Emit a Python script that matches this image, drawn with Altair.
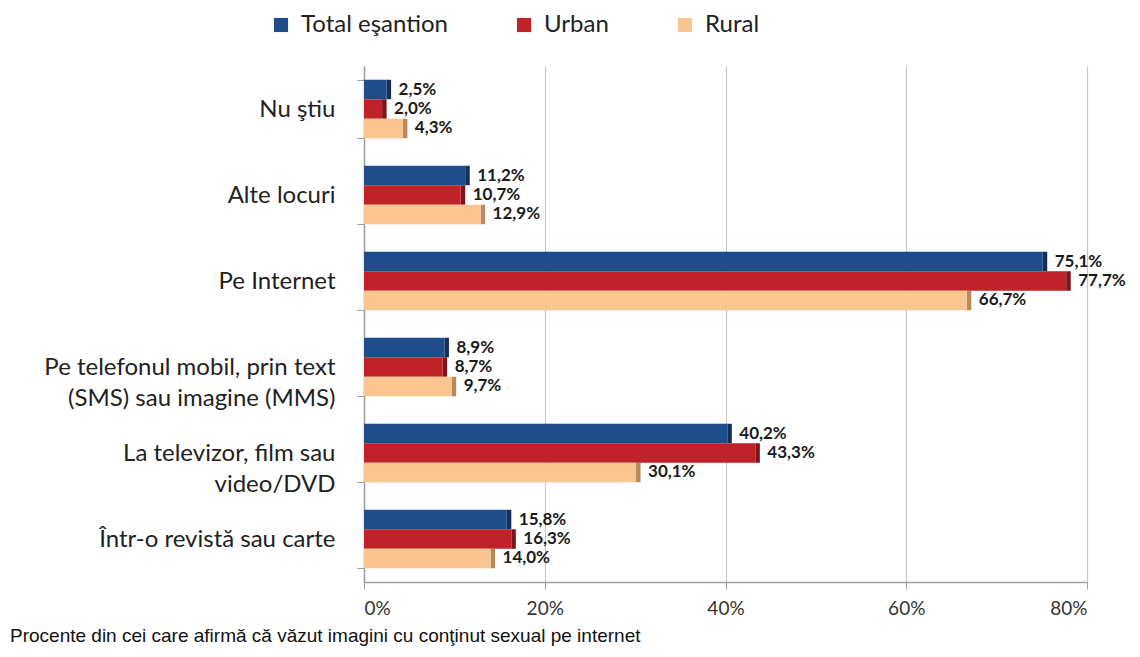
import altair as alt
import pandas as pd

categories = [
    "Nu ştiu",
    "Alte locuri",
    "Pe Internet",
    "Pe telefonul mobil, prin text|(SMS) sau imagine (MMS)",
    "La televizor, film sau|video/DVD",
    "Într-o revistă sau carte",
]
series = ["Total eşantion", "Urban", "Rural"]
total = [2.5, 11.2, 75.1, 8.9, 40.2, 15.8]
urban = [2.0, 10.7, 77.7, 8.7, 43.3, 16.3]
rural = [4.3, 12.9, 66.7, 9.7, 30.1, 14.0]
colors = ["#1f4c8a", "#c0222a", "#fbc592"]
side_colors = ["#142f58", "#7e141a", "#b98a5c"]
x_ticks = [0, 20, 40, 60, 80]
footnote = "Procente din cei care afirmă că văzut imagini cu conţinut sexual pe internet"

rows = []
for s, vals in zip(series, [total, urban, rural]):
    for c, v in zip(categories, vals):
        rows.append({"cat": c, "series": s, "value": v,
                     "label": f"{v:.1f}".replace(".", ",") + "%"})
df = pd.DataFrame(rows)

FONT = "Lato"

base = alt.Chart(df).encode(
    y=alt.Y(
        "cat:N",
        sort=categories,
        title=None,
        scale=alt.Scale(paddingInner=0.32, paddingOuter=0.16),
        axis=alt.Axis(
            labelExpr="split(datum.label, '|')",
            labelFont=FONT,
            labelFontSize=24,
            labelColor="#222222",
            labelPadding=22,
            labelLineHeight=31,
            labelLimit=500,
            tickBand="extent",
            tickSize=7,
            tickColor="#a0a0a0",
            domainColor="#a0a0a0",
            domainWidth=1.5,
            grid=False,
        ),
    ),
    yOffset=alt.YOffset("series:N", sort=series),
)

x_enc = alt.X(
    "value:Q",
    title=None,
    scale=alt.Scale(domain=[0, 80], nice=False),
    axis=alt.Axis(
        values=x_ticks,
        labelExpr="datum.value + '%'",
        labelFont=FONT,
        labelFontSize=19,
        labelColor="#333333",
        labelPadding=10,
        tickSize=7,
        tickColor="#a0a0a0",
        domainColor="#a0a0a0",
        domainWidth=1.5,
        grid=True,
        gridColor="#c8c8c8",
        gridWidth=1.2,
    ),
)

sides = base.mark_bar().transform_calculate(
    side_end="datum.value + 0.5"
).encode(
    x=x_enc,
    x2="side_end:Q",
    color=alt.Color("series:N", sort=series,
                    scale=alt.Scale(domain=series, range=side_colors),
                    legend=None),
)

bars = base.mark_bar().encode(
    x=x_enc,
    color=alt.Color(
        "series:N",
        sort=series,
        scale=alt.Scale(domain=series, range=colors),
        legend=alt.Legend(
            title=None,
            orient="none",
            direction="horizontal",
            legendX=-95,
            legendY=-53,
            symbolType="square",
            symbolSize=200,
            symbolStrokeWidth=0,
            labelFont=FONT,
            labelFontSize=24,
            labelColor="#222222",
            labelLimit=400,
            columnPadding=64,
            labelOffset=8,
        ),
    ),
)

labels = base.mark_text(
    align="left", baseline="middle", dx=12, font=FONT, fontSize=17,
    fontWeight="bold", color="#1a1a1a"
).encode(x=alt.X("value:Q"), text="label:N")

chart = (
    alt.layer(sides, bars, labels)
    .resolve_scale(color="independent")
    .properties(
        width=723,
        height=516,
        padding={"left": 2, "top": 5, "right": 5, "bottom": 0},
        title=alt.TitleParams(
            footnote,
            orient="bottom",
            anchor="start",
            frame="group",
            dx=-354,
            offset=9,
            font="Liberation Sans",
            fontSize=19,
            fontWeight="normal",
            color="#111111",
        ),
    )
    .configure_view(stroke=None)
)

chart.save("out.html", embed_options={"renderer": "svg", "actions": False})
